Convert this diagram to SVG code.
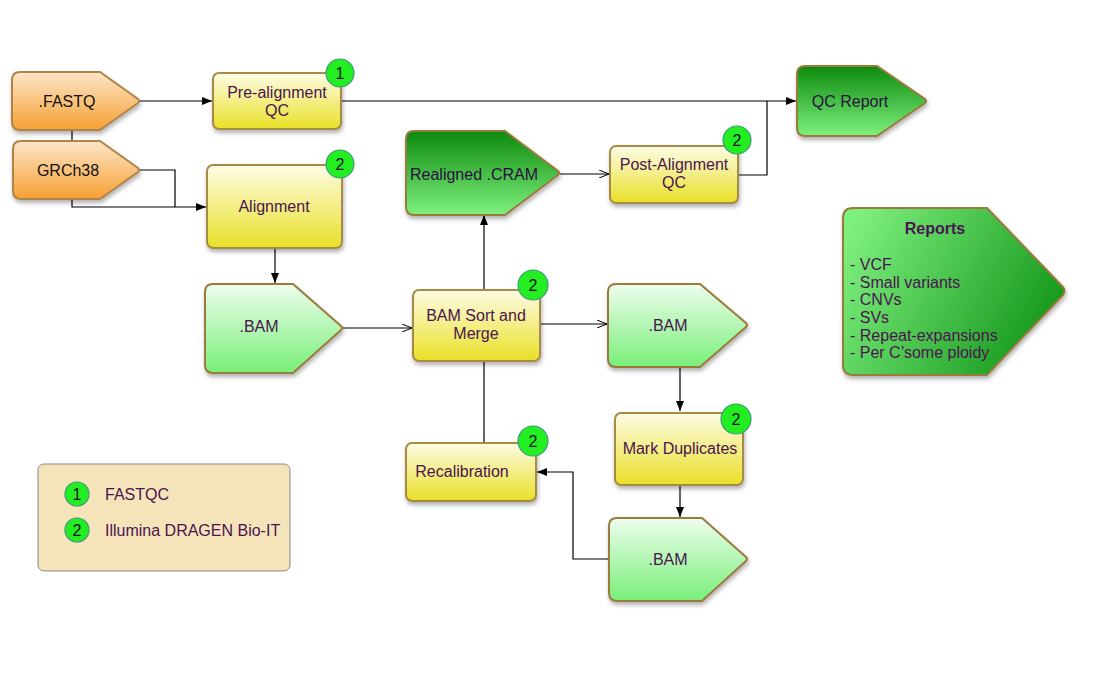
<svg xmlns="http://www.w3.org/2000/svg" width="1100" height="700" viewBox="0 0 1100 700">
<defs>
<linearGradient id="gYel" x1="0" y1="0" x2="0" y2="1"><stop offset="0" stop-color="#fdfce6"/><stop offset="1" stop-color="#e9e026"/></linearGradient>
<linearGradient id="gOra" x1="0" y1="0" x2="0" y2="1"><stop offset="0" stop-color="#fde6c8"/><stop offset="1" stop-color="#f6a033"/></linearGradient>
<linearGradient id="gDark" x1="0" y1="0" x2="0" y2="1"><stop offset="0" stop-color="#0d8a0d"/><stop offset="1" stop-color="#7ef07e"/></linearGradient>
<linearGradient id="gLight" x1="0" y1="0" x2="0" y2="1"><stop offset="0" stop-color="#eefdee"/><stop offset="1" stop-color="#78ef78"/></linearGradient>
<linearGradient id="gRep" x1="0" y1="0.2" x2="1" y2="0.6"><stop offset="0" stop-color="#7ef07e"/><stop offset="1" stop-color="#14961a"/></linearGradient>
<filter id="sh" x="-10%" y="-10%" width="130%" height="140%"><feDropShadow dx="1" dy="3" stdDeviation="2" flood-color="#000" flood-opacity="0.3"/></filter>
<marker id="af" markerWidth="10" markerHeight="8" refX="10" refY="4" orient="auto" markerUnits="userSpaceOnUse"><path d="M0,0 L10,4 L0,8 Z" fill="#000"/></marker>
<marker id="ao" markerWidth="10" markerHeight="8" refX="10" refY="4" orient="auto" markerUnits="userSpaceOnUse"><path d="M0,0 L10,4 L0,8" fill="none" stroke="#000" stroke-width="1"/></marker>
<style>
.t{font-family:"Liberation Sans",Arial,sans-serif;font-size:16px;fill:#4a1450;text-anchor:middle;dominant-baseline:central}
.tl{font-family:"Liberation Sans",Arial,sans-serif;font-size:16px;fill:#4a1450;dominant-baseline:central}
.bt{font-family:"Liberation Sans",Arial,sans-serif;font-size:16px;fill:#111;text-anchor:middle;dominant-baseline:central}
.box{fill:url(#gYel);stroke:#a68a44;stroke-width:2;filter:url(#sh)}
.ora{fill:url(#gOra);stroke:#b0844a;stroke-width:2;filter:url(#sh)}
.dk{fill:url(#gDark);stroke:#9a7a3c;stroke-width:2;filter:url(#sh)}
.lt{fill:url(#gLight);stroke:#9a7a3c;stroke-width:2;filter:url(#sh)}
.bd{fill:#22ee22;stroke:#3f9a7a;stroke-width:1.2}
.c{fill:none;stroke:#000;stroke-width:1.2}
</style>
</defs>
<rect width="1100" height="700" fill="#fff"/>

<g id="connectors">
<path class="c" d="M140,101 H212" marker-end="url(#af)"/>
<path class="c" d="M341,101 H796" marker-end="url(#af)"/>
<path class="c" d="M738,175 H767 V101"/>
<path class="c" d="M72,130 V141"/>
<path class="c" d="M140,170 H175 V207"/>
<path class="c" d="M72,199 V207 H206" marker-end="url(#af)"/>
<path class="c" d="M275,248 V283" marker-end="url(#af)"/>
<path class="c" d="M343,328 H412" marker-end="url(#ao)"/>
<path class="c" d="M484,290 V215" marker-end="url(#af)"/>
<path class="c" d="M560,174 H609" marker-end="url(#ao)"/>
<path class="c" d="M540,324 H607" marker-end="url(#ao)"/>
<path class="c" d="M680,367 V411" marker-end="url(#af)"/>
<path class="c" d="M680,485 V517" marker-end="url(#af)"/>
<path class="c" d="M609,559 H573 V472 H537" marker-end="url(#af)"/>
<path class="c" d="M484,443 V361"/>
</g>

<g id="fastq">
<path class="ora" d="M20,72 H100 L138,99 Q140,101 138,103 L100,130 H20 Q12,130 12,122 V80 Q12,72 20,72 Z"/>
<text class="bt" x="67" y="101">.FASTQ</text>
</g>
<g id="grch38">
<path class="ora" d="M21,141 H100 L138,168 Q140,170 138,172 L100,199 H21 Q13,199 13,191 V149 Q13,141 21,141 Z"/>
<text class="bt" x="68" y="170">GRCh38</text>
</g>

<g id="prealign">
<rect class="box" x="213" y="73" width="128" height="56" rx="6"/>
<text class="t" x="277" y="92">Pre-alignment</text>
<text class="t" x="277" y="110">QC</text>
<circle class="bd" cx="340" cy="73" r="14"/><text class="bt" x="340" y="73">1</text>
</g>

<g id="alignment">
<rect class="box" x="207" y="165" width="135" height="83" rx="6"/>
<text class="t" x="274" y="206">Alignment</text>
<circle class="bd" cx="340" cy="164" r="14"/><text class="bt" x="340" y="164">2</text>
</g>

<g id="qcreport">
<path class="dk" d="M805,66 H877 L925,99 Q927,101 925,103 L877,136 H805 Q797,136 797,128 V74 Q797,66 805,66 Z"/>
<text class="bt" x="850" y="101" style="fill:#2a1040">QC Report</text>
</g>

<g id="cram">
<path class="dk" d="M414,131 H505 L558,171 Q560,173 558,175 L505,215 H414 Q406,215 406,207 V139 Q406,131 414,131 Z"/>
<text class="bt" x="474" y="174" style="fill:#2a1040">Realigned .CRAM</text>
</g>

<g id="postalign">
<rect class="box" x="610" y="146" width="128" height="57" rx="6"/>
<text class="t" x="674" y="164">Post-Alignment</text>
<text class="t" x="674" y="182">QC</text>
<circle class="bd" cx="737" cy="140" r="14"/><text class="bt" x="737" y="140">2</text>
</g>

<g id="bam1">
<path class="lt" d="M213,284 H293 L341,326 Q343,328 341,330 L293,373 H213 Q205,373 205,365 V292 Q205,284 213,284 Z"/>
<text class="t" x="259" y="326">.BAM</text>
</g>

<g id="bamsort">
<rect class="box" x="413" y="290" width="127" height="71" rx="6"/>
<text class="t" x="476" y="315">BAM Sort and</text>
<text class="t" x="476" y="333">Merge</text>
<circle class="bd" cx="533" cy="285" r="15"/><text class="bt" x="533" y="285">2</text>
</g>

<g id="bam2">
<path class="lt" d="M616,284 H700 L746,323 Q748,325 746,327 L700,367 H616 Q608,367 608,359 V292 Q608,284 616,284 Z"/>
<text class="t" x="668" y="325">.BAM</text>
</g>

<g id="markdup">
<rect class="box" x="615" y="413" width="128" height="72" rx="6"/>
<text class="t" x="680" y="448">Mark Duplicates</text>
<circle class="bd" cx="736" cy="419" r="15"/><text class="bt" x="736" y="419">2</text>
</g>

<g id="bam3">
<path class="lt" d="M617,518 H702 L746,557 Q748,559 746,561 L702,601 H617 Q609,601 609,593 V526 Q609,518 617,518 Z"/>
<text class="t" x="668" y="559">.BAM</text>
</g>

<g id="recal">
<rect class="box" x="406" y="443" width="130" height="58" rx="6"/>
<text class="t" x="462" y="471">Recalibration</text>
<circle class="bd" cx="533" cy="441" r="15"/><text class="bt" x="533" y="441">2</text>
</g>

<g id="reports">
<path d="M853,208 H987 L1063,287 Q1066,291 1063,295 L987,375 H853 Q843,375 843,365 V218 Q843,208 853,208 Z" fill="url(#gRep)" stroke="#9a7a3c" stroke-width="2" filter="url(#sh)"/>
<text class="t" x="935" y="228" style="font-weight:bold">Reports</text>
<text class="tl" x="850" y="264">- VCF</text>
<text class="tl" x="850" y="282">- Small variants</text>
<text class="tl" x="850" y="299">- CNVs</text>
<text class="tl" x="850" y="317">- SVs</text>
<text class="tl" x="850" y="335">- Repeat-expansions</text>
<text class="tl" x="850" y="352">- Per C’some ploidy</text>
</g>

<g id="legend">
<rect x="38" y="464" width="252" height="107" rx="6" fill="#f5e3b9" stroke="#888" stroke-width="1"/>
<circle class="bd" cx="77" cy="494" r="12"/><text class="bt" x="77" y="494">1</text>
<text class="tl" x="105" y="494">FASTQC</text>
<circle class="bd" cx="77" cy="530" r="12"/><text class="bt" x="77" y="530">2</text>
<text class="tl" x="105" y="530">Illumina DRAGEN Bio-IT</text>
</g>
</svg>
